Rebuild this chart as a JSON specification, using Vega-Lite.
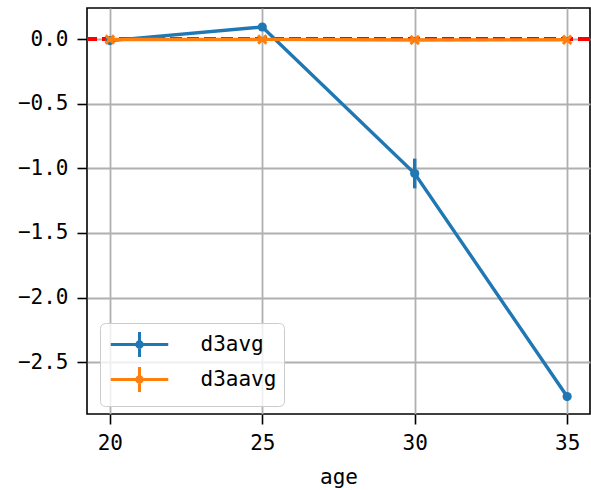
{
  "$schema": "https://vega.github.io/schema/vega-lite/v6.json",
  "autosize": {"type": "none"},
  "padding": {"left": 87, "top": 8, "right": 1, "bottom": 76},
  "width": 503,
  "height": 406,
  "background": "white",
  "config": {
    "font": "DejaVu Sans Mono",
    "view": {"stroke": "black", "strokeWidth": 1.6},
    "axis": {
      "domain": false,
      "grid": true,
      "gridColor": "#b0b0b0",
      "gridWidth": 1.8,
      "tickColor": "black",
      "tickWidth": 1.6,
      "tickSize": 10,
      "labelFont": "DejaVu Sans Mono",
      "labelFontSize": 21,
      "labelColor": "black",
      "titleFont": "DejaVu Sans Mono",
      "titleFontSize": 21,
      "titleFontWeight": "normal",
      "titleColor": "black"
    },
    "legend": {
      "labelFont": "DejaVu Sans Mono",
      "labelFontSize": 21,
      "labelColor": "black"
    }
  },
  "data": {
    "values": [
      {"age": 20, "series": "d3avg", "value": -0.012, "lo": -0.022, "hi": -0.002},
      {"age": 25, "series": "d3avg", "value": 0.093, "lo": 0.086, "hi": 0.1},
      {"age": 30, "series": "d3avg", "value": -1.04, "lo": -1.155, "hi": -0.925},
      {"age": 35, "series": "d3avg", "value": -2.765, "lo": -2.775, "hi": -2.755},
      {"age": 20, "series": "d3aavg", "value": -0.004, "lo": -0.01, "hi": 0.002},
      {"age": 25, "series": "d3aavg", "value": -0.003, "lo": -0.008, "hi": 0.002},
      {"age": 30, "series": "d3aavg", "value": -0.007, "lo": -0.012, "hi": -0.002},
      {"age": 35, "series": "d3aavg", "value": -0.006, "lo": -0.011, "hi": -0.001}
    ]
  },
  "encoding": {
    "x": {
      "field": "age",
      "type": "quantitative",
      "scale": {"domain": [19.25, 35.75], "nice": false, "zero": false},
      "axis": {"values": [20, 25, 30, 35], "title": "age", "labelPadding": 8, "titlePadding": 13, "format": "d"}
    },
    "y": {
      "field": "value",
      "type": "quantitative",
      "scale": {"domain": [-2.9, 0.24], "nice": false, "zero": false},
      "axis": {"values": [0, -0.5, -1, -1.5, -2, -2.5], "format": ".1f", "title": null, "labelPadding": 9}
    }
  },
  "layer": [
    {
      "mark": {"type": "rule", "color": "red", "strokeWidth": 3.5, "strokeDash": [12, 5]},
      "encoding": {"y": {"datum": 0}, "x": null}
    },
    {
      "transform": [{"filter": "datum.series == 'd3avg'"}],
      "layer": [
        {
          "mark": {"type": "line", "strokeWidth": 3.4},
          "encoding": {
            "color": {
              "field": "series",
              "type": "nominal",
              "scale": {"domain": ["d3avg", "d3aavg"], "range": ["#1f77b4", "#ff7f0e"]},
              "legend": {
                "title": null,
                "orient": "none",
                "legendX": 13,
                "legendY": 315,
                "symbolType": "M-2.3,0H2.3M0,-1V1M0.22,0A0.22,0.22 0 1,1 -0.22,0A0.22,0.22 0 1,1 0.22,0Z",
                "symbolSize": 625,
                "symbolStrokeWidth": 3,
                "symbolOffset": 18,
                "labelOffset": 47,
                "rowPadding": -3,
                "padding": 7.5,
                "fillColor": "rgba(255,255,255,0.8)",
                "strokeColor": "#cccccc",
                "cornerRadius": 5,
                "encode": {
                  "symbols": {
                    "update": {
                      "stroke": {"scale": "color", "field": "value"},
                      "fill": {"scale": "color", "field": "value"},
                      "strokeWidth": {"value": 3},
                      "opacity": {"value": 1}
                    }
                  }
                }
              }
            }
          }
        },
        {
          "mark": {"type": "rule", "strokeWidth": 3.4, "color": "#1f77b4"},
          "encoding": {"y": {"field": "lo", "type": "quantitative"}, "y2": {"field": "hi"}}
        },
        {
          "mark": {"type": "point", "shape": "circle", "filled": true, "size": 85, "opacity": 1, "color": "#1f77b4"}
        }
      ]
    },
    {
      "transform": [{"filter": "datum.series == 'd3aavg'"}],
      "layer": [
        {
          "mark": {"type": "line", "strokeWidth": 3.4},
          "encoding": {"color": {"field": "series", "type": "nominal"}}
        },
        {
          "mark": {"type": "rule", "strokeWidth": 3.4, "color": "#ff7f0e"},
          "encoding": {"y": {"field": "lo", "type": "quantitative"}, "y2": {"field": "hi"}}
        },
        {
          "mark": {"type": "point", "shape": "M-1,-1L1,1M-1,1L1,-1", "filled": false, "size": 70, "strokeWidth": 3, "opacity": 1, "color": "#ff7f0e"}
        }
      ]
    }
  ]
}
